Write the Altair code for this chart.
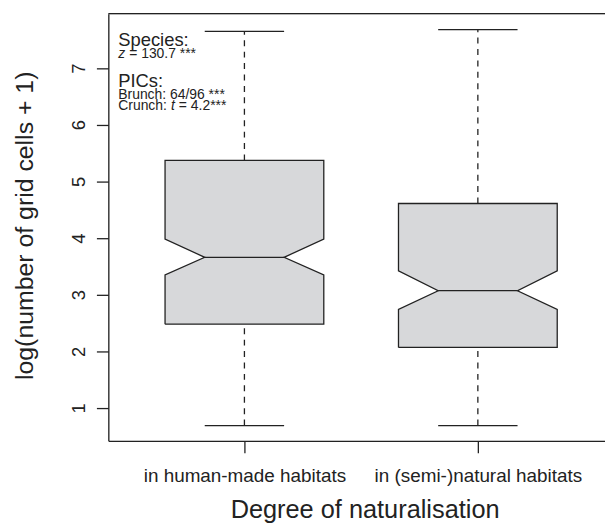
import altair as alt
import pandas as pd

# ---- data ----
categories = ["in human-made habitats", "in (semi-)natural habitats"]
positions = [1, 2]
whisker_low = [0.69, 0.69]
q1 = [2.48, 2.07]
notch_low = [3.35, 2.74]
median = [3.66, 3.07]
notch_high = [3.98, 3.42]
q3 = [5.37, 4.61]
whisker_high = [7.65, 7.68]

y_ticks = [1, 2, 3, 4, 5, 6, 7]

# ---- geometry of R-style notched boxes (in x-data units) ----
BOX_HALF = 0.34
NOTCH_HALF = 0.17
CAP_HALF = 0.17

W, H = 500, 430
X_DOMAIN = [0.417, 0.417 + W / 235.0]
Y_DOMAIN = [0.42, 7.96]
FONT = "Liberation Sans"
INK = "#222222"
FILL = "#d7d8da"
LW = 1.3

area_rows, outline_rows, stats_rows = [], [], []
for g, c in enumerate(positions):
    xs = [c - BOX_HALF, c - NOTCH_HALF, c + NOTCH_HALF, c + BOX_HALF]
    low_top = [notch_low[g], median[g], median[g], notch_low[g]]
    up_bot = [notch_high[g], median[g], median[g], notch_high[g]]
    for xv, top in zip(xs, low_top):
        area_rows.append({"part": f"{g}-lo", "x": xv, "y": q1[g], "y2": top})
    for xv, bot in zip(xs, up_bot):
        area_rows.append({"part": f"{g}-up", "x": xv, "y": bot, "y2": q3[g]})

    levels = [(q1[g], BOX_HALF), (notch_low[g], BOX_HALF), (median[g], NOTCH_HALF),
              (notch_high[g], BOX_HALF), (q3[g], BOX_HALF)]
    left = [(c - hw, yv) for yv, hw in levels]
    right = [(c + hw, yv) for yv, hw in reversed(levels)]
    path = left + right + [left[0]]
    for k, (xv, yv) in enumerate(path):
        outline_rows.append({"g": g, "ord": k, "x": xv, "y": yv})
    stats_rows.append({"g": g, "c": c, "lo": whisker_low[g], "q1": q1[g], "med": median[g],
                       "q3": q3[g], "hi": whisker_high[g],
                       "nl": c - NOTCH_HALF, "nr": c + NOTCH_HALF,
                       "cl": c - CAP_HALF, "cr": c + CAP_HALF})

area_df = pd.DataFrame(area_rows)
outline_df = pd.DataFrame(outline_rows)
stats_df = pd.DataFrame(stats_rows)

label_expr = "datum.value == 1 ? '%s' : (datum.value == 2 ? '%s' : '')" % (categories[0], categories[1])

x_scale = alt.Scale(domain=X_DOMAIN, nice=False, zero=False)
y_scale = alt.Scale(domain=Y_DOMAIN, nice=False, zero=False)

x_axis = alt.Axis(values=positions, labelExpr=label_expr, grid=False, tickSize=12,
                  labelPadding=14, labelFontSize=19, labelFont=FONT, labelColor=INK,
                  labelBaseline="top", labelLimit=0,
                  domainColor=INK, tickColor=INK, domainWidth=LW, tickWidth=LW,
                  title="Degree of naturalisation", titleFontSize=25.5, titleFont=FONT,
                  titleFontWeight="normal", titleColor=INK, titleX=258, titleY=77,
                  titleBaseline="alphabetic", titleAlign="center")
y_axis = alt.Axis(values=y_ticks, grid=False, tickSize=12, labelAngle=270,
                  labelAlign="center", labelBaseline="alphabetic", labelPadding=12,
                  labelFontSize=18.5, labelFont=FONT, labelColor=INK,
                  domainColor=INK, tickColor=INK, domainWidth=LW, tickWidth=LW,
                  title="log(number of grid cells + 1)", titleFontSize=25, titleFont=FONT,
                  titleFontWeight="normal", titleColor=INK, titleAngle=270,
                  titleX=-76, titleY=213, titleAlign="center", titleBaseline="alphabetic")


def X(field):
    return alt.X(field, type="quantitative", scale=x_scale, axis=x_axis)


def Y(field):
    return alt.Y(field, type="quantitative", scale=y_scale, axis=y_axis)


fill = alt.Chart(area_df).mark_area(color=FILL, opacity=1).encode(
    x=X("x"), y=Y("y"), y2="y2", detail="part:N")

outline = alt.Chart(outline_df).mark_line(color=INK, strokeWidth=LW).encode(
    x=X("x"), y=Y("y"), detail="g:N", order="ord:Q")

base = alt.Chart(stats_df)
med_line = base.mark_rule(color=INK, strokeWidth=LW).encode(x=X("nl"), x2="nr", y=Y("med"))
whisk_up = base.mark_rule(color=INK, strokeWidth=LW, strokeDash=[6, 5.5]).encode(
    x=X("c"), y=Y("q3"), y2="hi")
whisk_dn = base.mark_rule(color=INK, strokeWidth=LW, strokeDash=[6, 5.5]).encode(
    x=X("c"), y=Y("lo"), y2="q1")
cap_hi = base.mark_rule(color=INK, strokeWidth=LW).encode(x=X("cl"), x2="cr", y=Y("hi"))
cap_lo = base.mark_rule(color=INK, strokeWidth=LW).encode(x=X("cl"), x2="cr", y=Y("lo"))

top_frame = alt.Chart(pd.DataFrame({"k": [0]})).mark_rule(color=INK, strokeWidth=LW).encode(
    x=alt.value(0), x2=alt.value(W), y=alt.value(0))

# ---- annotation (pixel offsets inside the plot area) ----
notes = [
    ("Species:", 10, 33, 18.5, "normal"),
    ("z", 10, 45, 14, "italic"),
    ("= 130.7 ***", 21, 45, 14, "normal"),
    ("PICs:", 10, 74, 18.5, "normal"),
    ("Brunch: 64/96 ***", 10, 86, 14, "normal"),
    ("Crunch:", 10, 97, 14, "normal"),
    ("t", 63, 97, 14, "italic"),
    ("= 4.2***", 71, 97, 14, "normal"),
]
note_layers = []
for txt, px, py, fs, style in notes:
    note_layers.append(
        alt.Chart(pd.DataFrame({"t": [txt]})).mark_text(
            align="left", baseline="alphabetic", font=FONT, fontSize=fs,
            fontStyle=style, color=INK).encode(
            text="t:N", x=alt.value(px), y=alt.value(py)))

chart = alt.layer(fill, outline, med_line, whisk_up, whisk_dn, cap_hi, cap_lo, top_frame,
                  *note_layers).properties(
    width=W, height=H,
    autosize=alt.AutoSizeParams(type="none"),
    padding={"left": 101, "top": 4, "right": 0, "bottom": 88},
).configure_view(stroke=None).configure(background="white")

chart.save("out.html", embed_options={"renderer": "svg", "actions": False})
